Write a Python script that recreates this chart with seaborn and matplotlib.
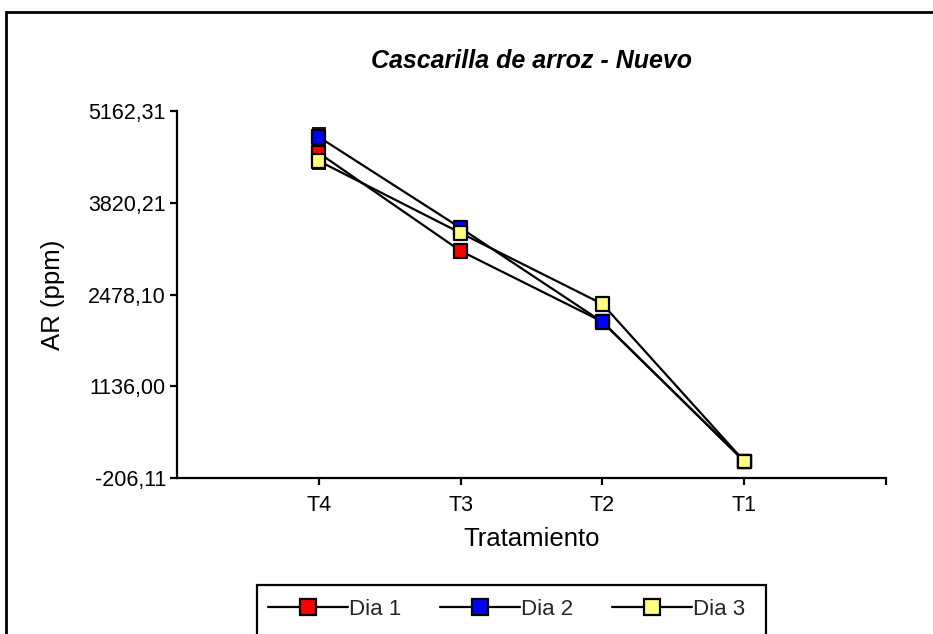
import numpy as np
import pandas as pd
import matplotlib
matplotlib.use("Agg")
import matplotlib.pyplot as plt
from matplotlib.lines import Line2D
from matplotlib.patches import Rectangle
import seaborn as sns

# ---- data ----
tratamientos = ["T4", "T3", "T2", "T1"]
dia1 = [4548, 3115, 2080, 40]
dia2 = [4782, 3451, 2076, 40]
dia3 = [4431, 3378, 2339, 40]
err1 = [75, 25, 25, 15]
err2 = [135, 25, 25, 15]
err3 = [120, 25, 25, 15]
series_names = ["Dia 1", "Dia 2", "Dia 3"]
series_colors = ["#FF0000", "#0000FF", "#FFFF80"]
y_ticks = [-206.11, 1136.00, 2478.10, 3820.21, 5162.31]

rows = []
for name, vals, errs in zip(series_names, [dia1, dia2, dia3], [err1, err2, err3]):
    for i, (t, v, e) in enumerate(zip(tratamientos, vals, errs)):
        rows.append({"dia": name, "trat": t, "pos": i + 1, "ar": v, "err": e})
df = pd.DataFrame(rows)

sns.set_theme(style="white")
plt.rcParams["font.family"] = ["Liberation Sans", "DejaVu Sans"]

W, H = 933, 634
fig = plt.figure(figsize=(W / 100, H / 100), dpi=100)
ax = fig.add_axes([177 / W, 1 - 478 / H, (886 - 177) / W, (478 - 111) / H])

# connecting lines
sns.lineplot(data=df, x="pos", y="ar", units="dia", estimator=None,
             color="black", lw=1.6, ax=ax, legend=False, zorder=2)

# error bars
for name in series_names:
    sub = df[df["dia"] == name]
    ax.errorbar(sub["pos"], sub["ar"], yerr=sub["err"], fmt="none",
                ecolor="black", elinewidth=1.3, capsize=5, capthick=1.3, zorder=3)

# square markers
sns.scatterplot(data=df, x="pos", y="ar", hue="dia", palette=series_colors,
                marker="s", s=90, edgecolor="black", linewidth=1.6,
                ax=ax, legend=False, zorder=5)

ax.set_xlim(0, 5)
ax.set_ylim(y_ticks[0], y_ticks[-1])
ax.set_xticks([1, 2, 3, 4, 5])
ax.set_xticklabels(tratamientos + [""])
ax.set_yticks(y_ticks)
ax.set_yticklabels([f"{v:.2f}".replace(".", ",") for v in y_ticks])

for side in ["top", "right"]:
    ax.spines[side].set_visible(False)
for side in ["left", "bottom"]:
    ax.spines[side].set_color("black")
    ax.spines[side].set_linewidth(1.6)

ax.tick_params(axis="both", which="major", direction="out", length=5,
               width=1.6, color="black", labelsize=15.5, labelcolor="black",
               left=True, bottom=True)
ax.tick_params(axis="x", pad=7)
ax.tick_params(axis="y", pad=3)

ax.set_xlabel("Tratamiento", fontsize=18.5, color="black", labelpad=8)
ax.set_ylabel("AR (ppm)", fontsize=18.5, color="black", labelpad=17)
ax.set_title("Cascarilla de arroz - Nuevo", fontsize=18, fontweight="bold",
             fontstyle="italic", color="black", pad=31)

# legend
handles = [Line2D([0], [0], color="black", lw=1.6, marker="s", markersize=11,
                  markerfacecolor=c, markeredgecolor="black", markeredgewidth=1.6)
           for c in series_colors]
leg = fig.legend(handles, series_names, loc="upper left",
                 bbox_to_anchor=(252 / W, 1 - 583 / H), ncol=3, frameon=False,
                 fontsize=16, handlelength=3.6, handletextpad=0.05,
                 columnspacing=1.75, borderpad=0.2)
fig.add_artist(Rectangle((257 / W, 1 - 700 / H), (766 - 257) / W, (700 - 585) / H,
                         transform=fig.transFigure, fill=False,
                         edgecolor="black", lw=1.6))

# outer frame
fig.add_artist(Rectangle((6 / W, -0.1), 1.2, 1 - 12 / H + 0.1,
                         transform=fig.transFigure, fill=False,
                         edgecolor="black", lw=2))

fig.savefig("out.png", dpi=100, facecolor="white")
